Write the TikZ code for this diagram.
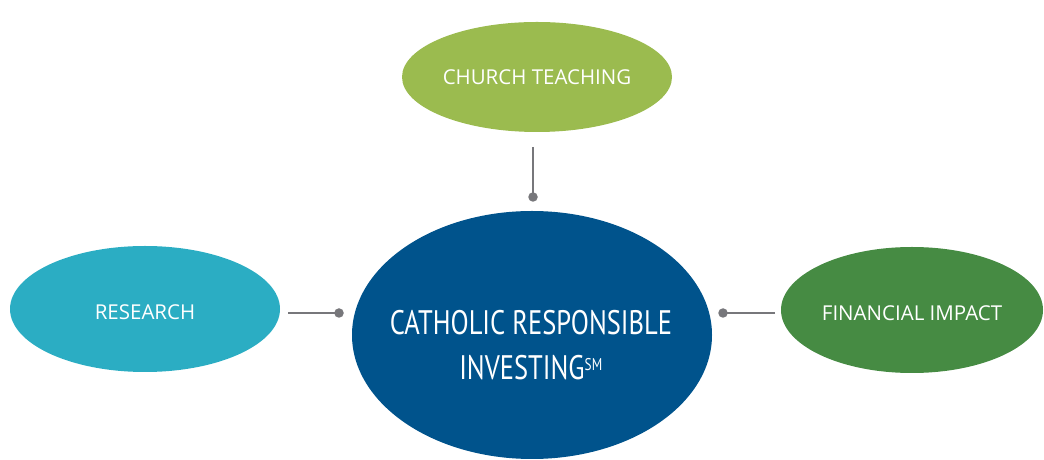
\documentclass[tikz,border=0pt]{standalone}
\usepackage{fontspec}
\setmainfont{Open Sans}
\newfontfamily\condfont[FakeStretch=0.78]{PT Sans}
\usetikzlibrary{shapes.geometric}
\definecolor{cteach}{HTML}{9BBB4F}
\definecolor{cresearch}{HTML}{2BADC3}
\definecolor{cfin}{HTML}{468B43}
\definecolor{ccenter}{HTML}{00538C}
\definecolor{cline}{HTML}{77777B}
\tikzset{
  oval/.style={ellipse, inner sep=0pt, text=white, font=\fontsize{20.5}{24}\selectfont},
  lowtext/.style={text height=20.6pt, text depth=0pt},
  conn/.style={draw=cline, line width=2.6pt},
  dotend/.style={circle, fill=cline, inner sep=0pt, minimum size=9.5pt},
}
\begin{document}
\begin{tikzpicture}[x=1pt,y=1pt]
\useasboundingbox (0,0) rectangle (1044,460);
\node[oval, fill=cteach, minimum width=270pt, minimum height=110pt] (church) at (537,383) {CHURCH TEACHING};
\node[oval, lowtext, fill=cresearch, minimum width=270pt, minimum height=126pt] (research) at (145,151) {RESEARCH};
\node[oval, lowtext, fill=cfin, minimum width=262pt, minimum height=126pt] (fin) at (912,150) {FINANCIAL IMPACT};
\node[ellipse, fill=ccenter, inner sep=0pt, minimum width=360pt, minimum height=248pt] (cri) at (532,125) {};
\node[text=white, align=center, font=\condfont\fontsize{34}{45}\selectfont, inner sep=0pt] (crilabel) at (531,115)
  {CATHOLIC RESPONSIBLE\\INVESTING\textsuperscript{\fontsize{17}{17}\selectfont SM}};
% connectors
\coordinate (t1) at (533,313);
\node[dotend] (t2) at (533,263) {};
\coordinate (l1) at (288,147);
\node[dotend] (l2) at (339,147) {};
\coordinate (r1) at (775,147);
\node[dotend] (r2) at (723,147) {};
\draw[conn] (t1) -- (t2.center);
\draw[conn] (l1) -- (l2.center);
\draw[conn] (r1) -- (r2.center);
\end{tikzpicture}
\end{document}
